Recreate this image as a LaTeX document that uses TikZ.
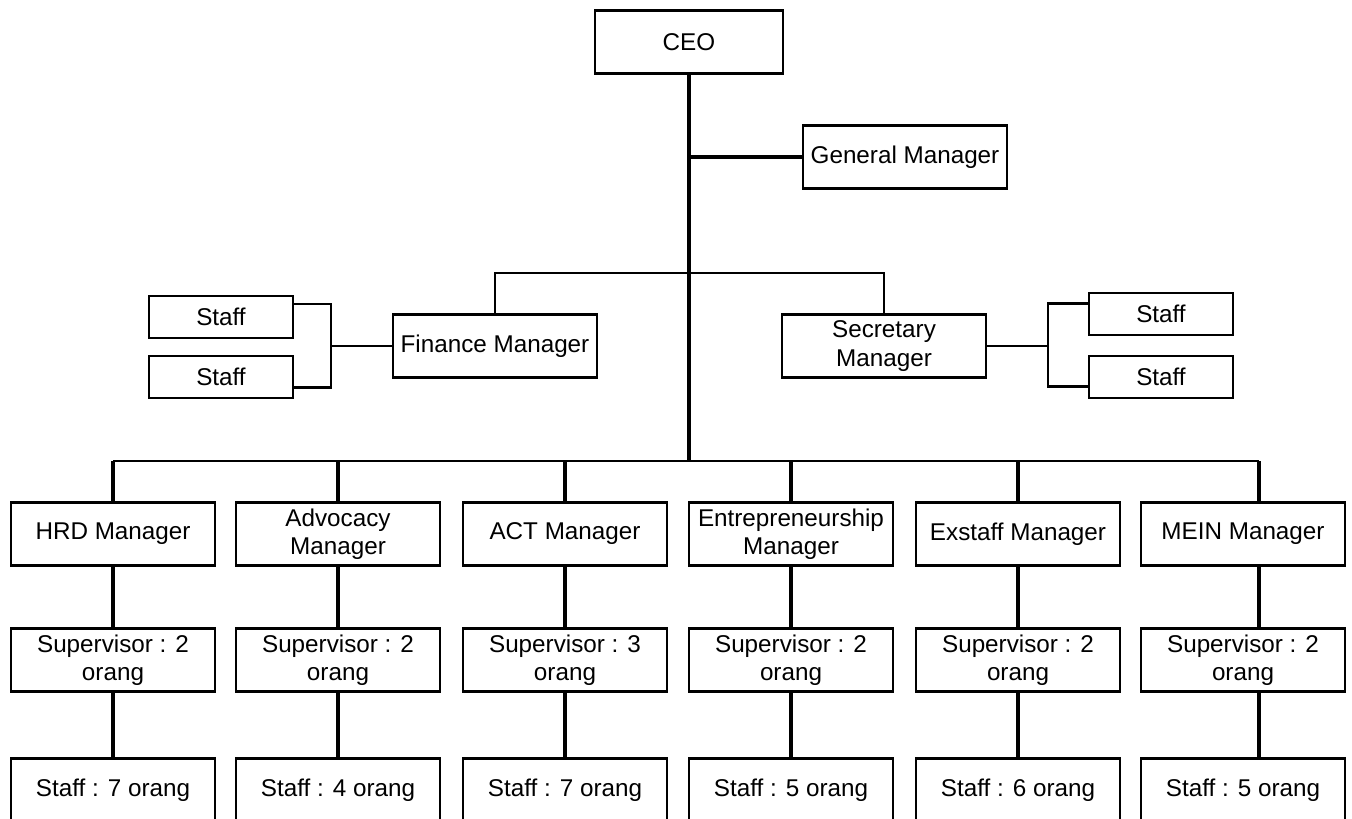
\documentclass[tikz,border=0pt]{standalone}
\usepackage{fontspec}
\setmainfont{Liberation Sans}

\tikzset{
  box/.style={draw, line width=1.25pt, minimum width=4.08cm, minimum height=1.26cm,
    inner sep=1pt, align=center, font=\fontsize{13.8}{16}\selectfont},
  smallbox/.style={box, minimum width=2.88cm, minimum height=0.84cm},
  link/.style={line width=1.8pt},
  thin link/.style={line width=1.2pt}
}

\begin{document}
\begin{tikzpicture}[x=0.02cm, y=-0.02cm]
\useasboundingbox (0,0) rectangle (1352,818);

% top part
\node[box, minimum width=3.76cm] (ceo) at (689,42) {CEO};
\node[box] (gm) at (905,157) {General Manager};
\node[box] (fin) at (495,346) {Finance Manager};
\node[box] (sec) at (884,346) {Secretary\\Manager};

\node[smallbox] (sl1) at (221,317) {Staff};
\node[smallbox] (sl2) at (221,377) {Staff};
\node[smallbox] (sr1) at (1161,314) {Staff};
\node[smallbox] (sr2) at (1161,377) {Staff};

\coordinate (branch) at (689,273);
\coordinate (bus) at (689,461);
\draw[link] (ceo.south) -- (bus);
\draw[link] (ceo.south |- gm.west) -- (gm.west);
\draw[thin link] (fin.north) |- (branch) -| (sec.north);

\draw[thin link] (fin.west) -- ++(-61,0) coordinate (lbr);
\draw[thin link] ([yshift=7.4pt]sl1.east) -| (lbr) |- ([yshift=-6pt]sl2.east);
\draw[thin link] (sec.east) -- ++(61,0) coordinate (rbr);
\draw[thin link] ([yshift=6pt]sr1.west) -| (rbr) |- ([yshift=-5.4pt]sr2.west);

% departments
\foreach \nm/\cx/\off/\ttl/\ns/\nst in {
    hrd/113/0/{HRD Manager}/2/7,
    adv/338/0/{Advocacy\\Manager}/2/4,
    act/565/0/{ACT Manager}/3/7,
    ent/791/0/{Entrepreneurship\\Manager}/2/5,
    exs/1018/0/{Exstaff Manager}/2/6,
    mein/1243/16/{MEIN Manager}/2/5}{
  \node[box] (\nm) at (\cx,534) {\ttl};
  \node[box] (\nm-sup) at (\cx,660) {Supervisor : \ns\\orang};
  \node[box] (\nm-st) at (\cx,790) {Staff : \nst\ orang};
  \coordinate (\nm-top) at (\cx+\off,461);
  \draw[link] (\nm-top) -- (\nm-top |- \nm.north);
  \draw[link] (\nm-top |- \nm.south) -- (\nm-top |- \nm-sup.north);
  \draw[link] (\nm-top |- \nm-sup.south) -- (\nm-top |- \nm-st.north);
}
\draw[thin link] (hrd-top) -- (mein-top);

\end{tikzpicture}
\end{document}
